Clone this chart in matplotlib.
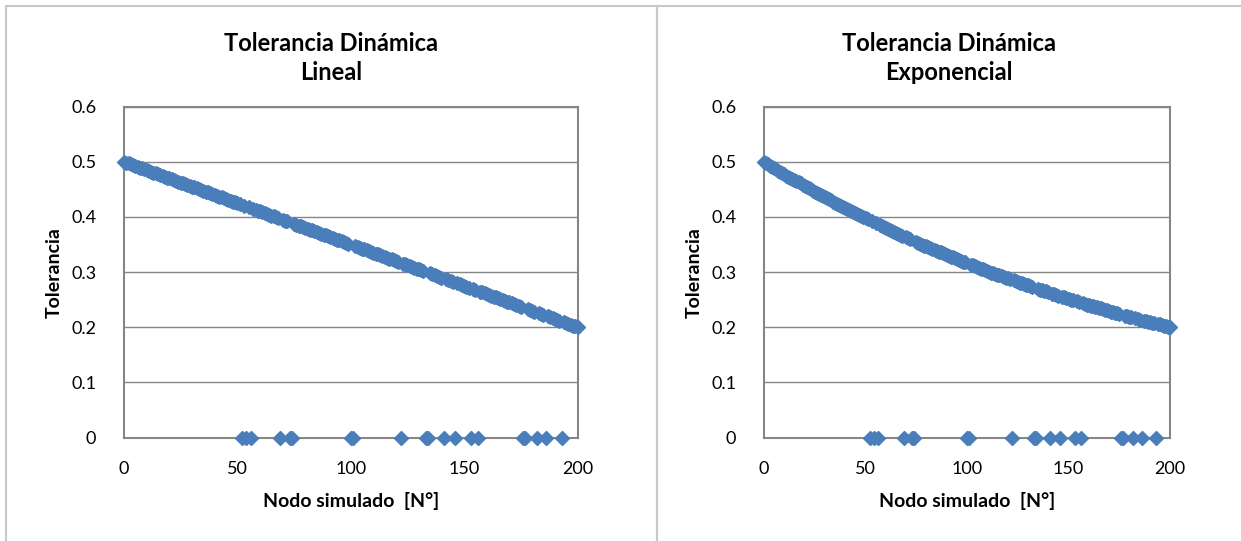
import numpy as np
import matplotlib
matplotlib.use("Agg")
import matplotlib.pyplot as plt
from matplotlib.patches import Rectangle

plt.rcParams['font.family'] = ['Lato', 'DejaVu Sans']

# Nodo simulado 0..200; tolerancia 0 = nodo no simulado
nodo = list(range(201))

tol_lineal = [
    .5000, .4985, .4970, .4955, .4940, .4925, .4910, .4895, .4880, .4865,
    .4850, .4835, .4820, .4805, .4790, .4775, .4760, .4745, .4730, .4715,
    .4700, .4685, .4670, .4655, .4640, .4625, .4610, .4595, .4580, .4565,
    .4550, .4535, .4520, .4505, .4490, .4475, .4460, .4445, .4430, .4415,
    .4400, .4385, .4370, .4355, .4340, .4325, .4310, .4295, .4280, .4265,
    .4250, .4235, 0, .4205, 0, .4175, 0, .4145, .4130, .4115,
    .4100, .4085, .4070, .4055, .4040, .4025, .4010, .3995, .3980, 0,
    .3950, .3935, .3920, 0, 0, .3875, .3860, .3845, .3830, .3815,
    .3800, .3785, .3770, .3755, .3740, .3725, .3710, .3695, .3680, .3665,
    .3650, .3635, .3620, .3605, .3590, .3575, .3560, .3545, .3530, .3515,
    0, 0, .3470, .3455, .3440, .3425, .3410, .3395, .3380, .3365,
    .3350, .3335, .3320, .3305, .3290, .3275, .3260, .3245, .3230, .3215,
    .3200, .3185, 0, .3155, .3140, .3125, .3110, .3095, .3080, .3065,
    .3050, .3035, .3020, 0, 0, .2975, .2960, .2945, .2930, .2915,
    .2900, 0, .2870, .2855, .2840, .2825, 0, .2795, .2780, .2765,
    .2750, .2735, .2720, 0, .2690, .2675, 0, .2645, .2630, .2615,
    .2600, .2585, .2570, .2555, .2540, .2525, .2510, .2495, .2480, .2465,
    .2450, .2435, .2420, .2405, .2390, .2375, 0, 0, .2330, .2315,
    .2300, .2285, 0, .2255, .2240, .2225, 0, .2195, .2180, .2165,
    .2150, .2135, .2120, 0, .2090, .2075, .2060, .2045, .2030, .2015,
    .2000,
]

tol_expo = [
    .500, .498, .496, .493, .491, .489, .487, .484, .482, .480,
    .478, .475, .473, .471, .469, .467, .465, .463, .461, .458,
    .456, .454, .452, .450, .448, .446, .444, .442, .440, .438,
    .436, .434, .432, .430, .428, .426, .424, .422, .420, .418,
    .416, .414, .413, .411, .409, .407, .405, .403, .401, .400,
    .398, .396, 0, .392, 0, .389, 0, .385, .383, .382,
    .380, .378, .376, .375, .373, .371, .370, .368, .366, 0,
    .363, .361, .360, 0, 0, .355, .353, .351, .350, .348,
    .347, .345, .343, .342, .340, .339, .337, .336, .334, .333,
    .331, .330, .328, .327, .325, .324, .322, .321, .319, .318,
    0, 0, .313, .312, .311, .309, .308, .306, .305, .303,
    .302, .301, .299, .298, .297, .295, .294, .293, .291, .290,
    .289, .287, 0, .285, .283, .282, .281, .280, .278, .277,
    .276, .274, .273, 0, 0, .269, .268, .267, .266, .265,
    .263, 0, .261, .260, .259, .257, 0, .255, .254, .253,
    .251, .250, .249, 0, .247, .246, 0, .244, .242, .241,
    .240, .239, .238, .237, .236, .235, .234, .233, .232, .231,
    .229, .228, .227, .226, .225, .224, 0, 0, .221, .220,
    .219, .218, 0, .216, .215, .214, 0, .212, .211, .210,
    .209, .208, .208, 0, .206, .205, .204, .203, .202, .201,
    .200,
]

titulos = ["Tolerancia Dinámica\nLineal", "Tolerancia Dinámica\nExponencial"]
series = [tol_lineal, tol_expo]
x_ticks = [0, 50, 100, 150, 200]
y_ticks = [0, 0.1, 0.2, 0.3, 0.4, 0.5, 0.6]
y_labels = ['0', '0.1', '0.2', '0.3', '0.4', '0.5', '0.6']

W, H = 1241, 541
fig = plt.figure(figsize=(W / 100, H / 100), dpi=100)

color = '#4A7EBB'
gris = '#868686'

# marcos de cada grafico (px)
boxes = [(6, 657), (657, 1260)]
axes_px = [(124, 577.5), (764, 1170)]
y_top, y_bot = 106.7, 437.5

for i in range(2):
    bx0, bx1 = boxes[i]
    fig.patches.append(Rectangle((bx0 / W, -0.05), (bx1 - bx0) / W, 1.05 - 6 / H,
                                 transform=fig.transFigure, fill=False,
                                 edgecolor='#C8C8C8', lw=1.5, zorder=0))

    ax0, ax1 = axes_px[i]
    ax = fig.add_axes([ax0 / W, 1 - y_bot / H, (ax1 - ax0) / W, (y_bot - y_top) / H])
    ax.plot(nodo, series[i], ls='', marker='D', ms=7, color=color,
            clip_on=False, zorder=5)

    ax.set_xlim(0, 200)
    ax.set_ylim(0, 0.6)
    ax.set_xticks(x_ticks)
    ax.set_yticks(y_ticks)
    ax.set_yticklabels(y_labels)
    ax.tick_params(length=0, labelsize=13)
    ax.tick_params(axis='y', pad=20)
    ax.tick_params(axis='x', pad=17)
    ax.grid(axis='y', color=gris, lw=1.0)
    ax.set_axisbelow(True)
    for s in ax.spines.values():
        s.set_color(gris)
        s.set_linewidth(1.5)

    ax.set_xlabel('Nodo simulado  [N°]', fontsize=14, fontweight='bold', labelpad=11)
    ax.set_ylabel('Tolerancia', fontsize=14, fontweight='bold', labelpad=6)

    cx = (bx0 + min(bx1, W)) / 2 / W
    fig.text(cx, 1 - 58 / H, titulos[i], ha='center', va='center',
             fontsize=17, fontweight='bold', linespacing=1.3)

fig.savefig('out.png', dpi=100)
